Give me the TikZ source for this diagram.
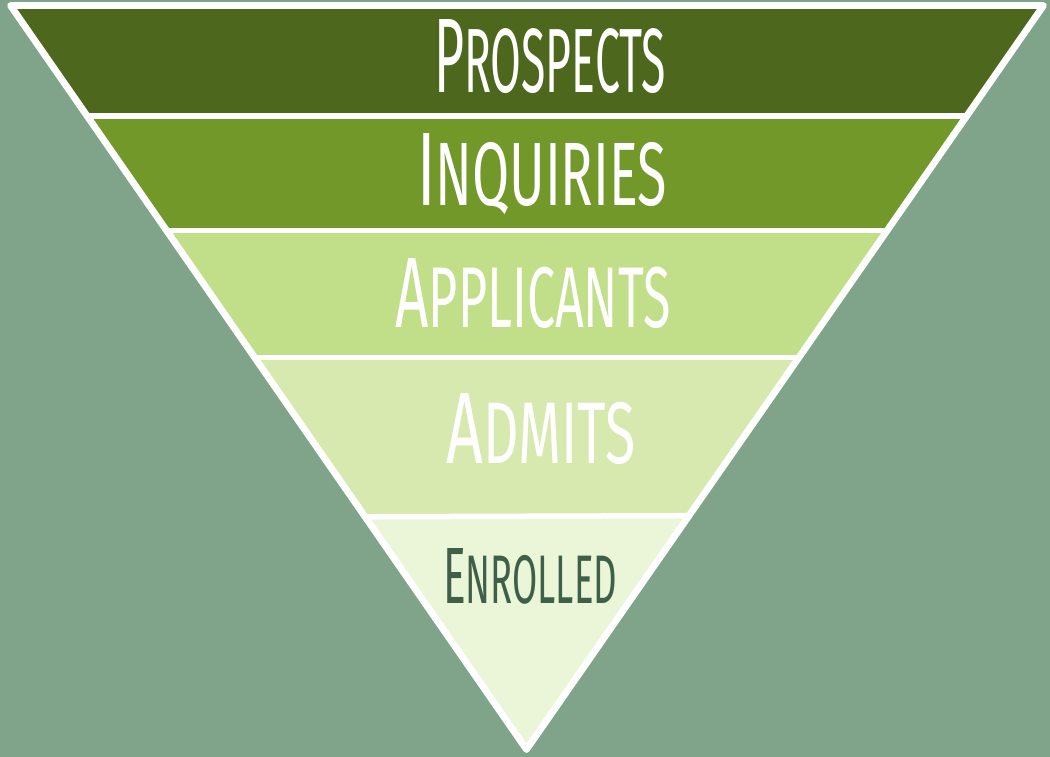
\documentclass[tikz,border=0pt]{standalone}
\usepackage{fontspec}
\setmainfont{Fira Sans}
\usepackage{graphicx}
\definecolor{bgc}{HTML}{7FA48A}
\definecolor{bandA}{HTML}{4D681C}
\definecolor{bandB}{HTML}{73982A}
\definecolor{bandC}{HTML}{C1DF88}
\definecolor{bandD}{HTML}{D7E9AE}
\definecolor{bandE}{HTML}{EBF6D9}
\definecolor{darktext}{HTML}{3E6048}
\newcommand\fakesc[2]{{\fontsize{72}{72}\selectfont #1}{\fontsize{62}{62}\selectfont #2}}
\tikzset{
  label text/.style={anchor=base, inner sep=0pt, text=white},
  gapline/.style={white, line width=5.5pt},
  outline/.style={white, line width=6.8pt, line join=round}
}
\begin{document}
\begin{tikzpicture}[x=1pt, y=-1pt]
\useasboundingbox (0,0) rectangle (1050,757);
\fill[bgc] (0,0) rectangle (1050,757);
\coordinate (tl) at (10.5,5.5);
\coordinate (tr) at (1043.5,5.5);
\coordinate (ap) at (526.5,749.5);
\begin{scope}
  \clip (tl) -- (tr) -- (ap) -- cycle;
  \fill[bandA] (0,0) rectangle (1050,116);
  \fill[bandB] (0,116) rectangle (1050,231);
  \fill[bandC] (0,231) rectangle (1050,358);
  \fill[bandD] (0,358) rectangle (1050,517);
  \fill[bandE] (0,517) rectangle (1050,760);
  \draw[gapline] (0,115.8) -- (1050,115.8);
  \draw[gapline] (0,230.6) -- (1050,230.6);
  \draw[gapline] (0,357.6) -- (1050,357.6);
  \draw[gapline] (0,518) -- (1050,514.5);
\end{scope}
\draw[outline] (tl) -- (tr) -- (ap) -- cycle;
\node[label text] (prospects) at (550,93) {\resizebox{232pt}{73pt}{\fakesc{P}{ROSPECTS}}};
\node[label text] (inquiries) at (542,205) {\resizebox{250pt}{72pt}{\fakesc{I}{NQUIRIES}}};
\node[label text] (applicants) at (533,327) {\resizebox{275pt}{69pt}{\fakesc{A}{PPLICANTS}}};
\node[label text] (admits) at (541,463) {\resizebox{189pt}{70pt}{\fakesc{A}{DMITS}}};
\node[label text, text=darktext] (enrolled) at (530,603) {\resizebox{174pt}{55pt}{\fakesc{E}{NROLLED}}};
\end{tikzpicture}
\end{document}
